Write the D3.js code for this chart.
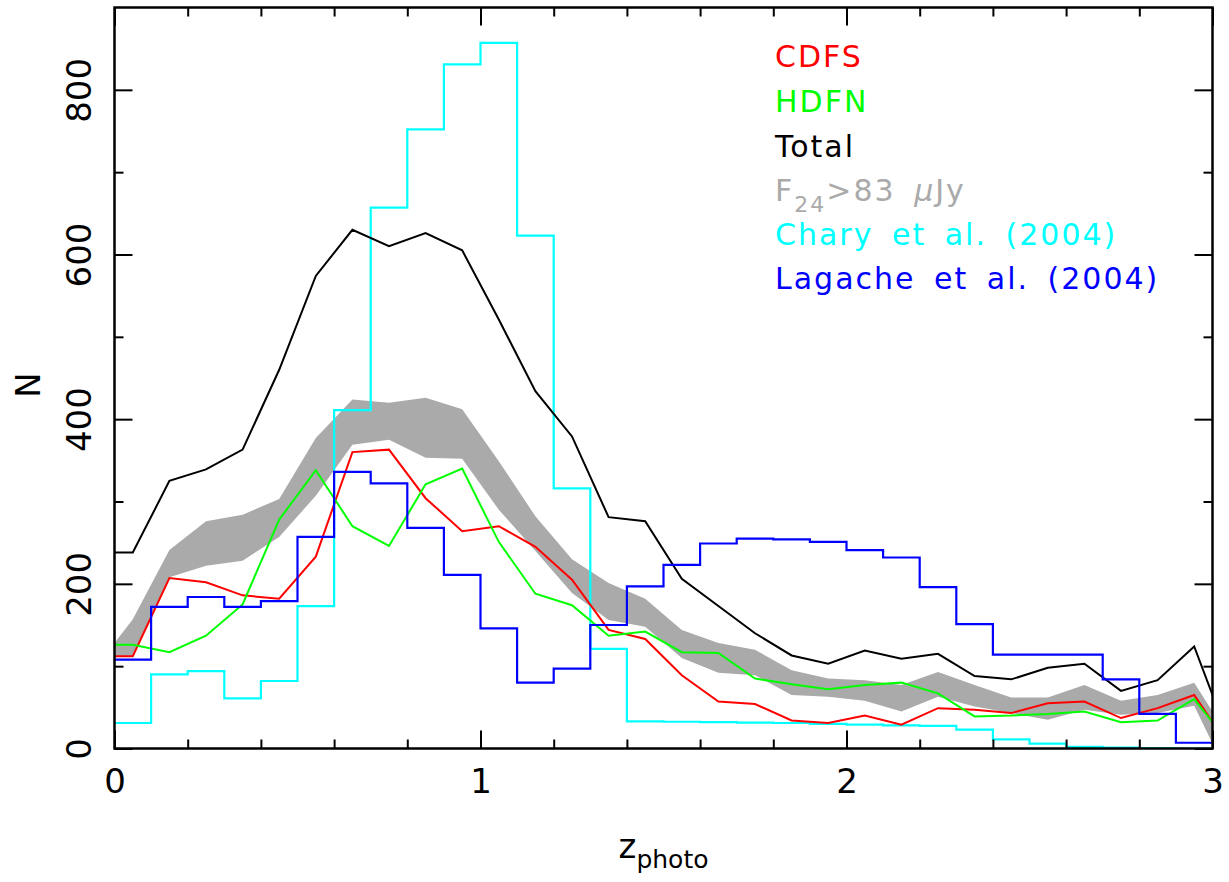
<!DOCTYPE html>
<html>
<head>
<meta charset="utf-8">
<script src="https://cdn.jsdelivr.net/npm/d3@7"></script>
<style>
  body { margin: 0; background: #fff; }
  text { font-family: "DejaVu Sans", sans-serif; }
</style>
</head>
<body>
<script>
// redshift points for the curves (bin centres plus the two ends)
var zPts = [0.0, 0.05, 0.15, 0.25, 0.35, 0.45, 0.55, 0.65, 0.75, 0.85, 0.95,
            1.05, 1.15, 1.25, 1.35, 1.45, 1.55, 1.65, 1.75, 1.85, 1.95,
            2.05, 2.15, 2.25, 2.35, 2.45, 2.55, 2.65, 2.75, 2.85, 2.95, 3.0];

// bin edges for the model histograms
var zBins = [0.0, 0.1, 0.2, 0.3, 0.4, 0.5, 0.6, 0.7, 0.8, 0.9, 1.0,
             1.1, 1.2, 1.3, 1.4, 1.5, 1.6, 1.7, 1.8, 1.9, 2.0,
             2.1, 2.2, 2.3, 2.4, 2.5, 2.6, 2.7, 2.8, 2.9, 3.0];

var total = [238, 238, 325, 339, 363, 460, 574, 630, 610, 626, 605,
             521, 434, 379, 281, 276, 206, 173, 140, 113, 103,
             119, 109, 115, 88, 84, 98, 103, 70, 83, 124, 65];

var cdfs = [112, 112, 207, 202, 186, 182, 233, 360, 363, 304, 264,
            270, 245, 205, 144, 133, 89, 57, 54, 34, 31,
            40, 29, 49, 47, 43, 55, 57, 37, 49, 65, 32];

var hdfn = [126, 126, 117, 137, 175, 278, 338, 270, 246, 321, 340,
            251, 188, 174, 137, 142, 117, 116, 85, 78, 72,
            77, 80, 67, 39, 40, 42, 45, 32, 34, 60, 32];

// F24 > 83 uJy band
var bandHi = [128, 157, 241, 276, 284, 303, 377, 424, 420, 426, 412,
              349, 282, 230, 201, 182, 144, 128, 120, 95, 85,
              83, 77, 93, 77, 62, 62, 77, 58, 65, 80, 45];
var bandLo = [111, 111, 208, 222, 228, 257, 307, 369, 375, 353, 352,
              290, 240, 189, 156, 148, 110, 92, 89, 65, 63,
              58, 45, 63, 51, 43, 35, 47, 41, 43, 52, 6];

// model histograms, one value per 0.1 bin
var chary = [31, 90, 94, 61, 82, 173, 411, 657, 752, 831,
             857, 623, 316, 121, 33, 32.5, 32, 31.5, 31, 30,
             29, 28, 27.5, 23, 11, 6, 2, 1, 0.5, 0];
var lagache = [108, 172, 184, 172, 179, 257, 336, 322, 268, 211,
               146, 80, 97, 150, 197, 223, 249, 255, 254, 251,
               241, 232, 196, 151, 114, 114, 114, 84, 42, 7];

var legendLabels = ["CDFS", "HDFN", "Total", "F24", "Chary et al. (2004)", "Lagache et al. (2004)"];
var legendColors = ["#ff0000", "#00ff00", "#000000", "#aaaaaa", "#00ffff", "#0000ff"];

// dimensions
var W = 1229, H = 882;
var margin = { top: 7.5, left: 114.5, right: 16.5, bottom: 133.5 };
var width = W - margin.left - margin.right;
var height = H - margin.top - margin.bottom;

var svg = d3.select("body").append("svg")
    .attr("width", W)
    .attr("height", H);

var g = svg.append("g")
    .attr("transform", "translate(" + margin.left + "," + margin.top + ")");

var x = d3.scaleLinear().domain([0, 3]).range([0, width]);
var y = d3.scaleLinear().domain([0, 900]).range([height, 0]);

g.append("clipPath").attr("id", "clip")
    .append("rect").attr("width", width).attr("height", height);

var plot = g.append("g").attr("clip-path", "url(#clip)");

// grey band
var area = d3.area()
    .x(function(d, i) { return x(zPts[i]); })
    .y0(function(d, i) { return y(bandLo[i]); })
    .y1(function(d, i) { return y(bandHi[i]); });

plot.append("path")
    .datum(bandHi)
    .attr("d", area)
    .attr("fill", "#aaaaaa");

// curves
var line = d3.line()
    .x(function(d, i) { return x(zPts[i]); })
    .y(function(d) { return y(d); });

// histograms drawn as steps
var step = d3.line()
    .curve(d3.curveStepAfter)
    .x(function(d, i) { return x(zBins[i]); })
    .y(function(d) { return y(d); });

function addLine(vals, colour) {
    plot.append("path")
        .datum(vals)
        .attr("d", line)
        .attr("fill", "none")
        .attr("stroke", colour)
        .attr("stroke-width", 2)
        .attr("stroke-linejoin", "miter");
}

function addStep(vals, colour) {
    plot.append("path")
        .datum(vals.concat([vals[vals.length - 1]]))
        .attr("d", step)
        .attr("fill", "none")
        .attr("stroke", colour)
        .attr("stroke-width", 2.2);
}

addStep(chary, "#00ffff");
addLine(total, "#000000");
addLine(cdfs, "#ff0000");
addLine(hdfn, "#00ff00");
addStep(lagache, "#0000ff");

// axes, ticks point inwards on all four sides
function styleAxis(sel) {
    sel.select(".domain").remove();
    sel.selectAll(".tick line").attr("stroke", "#000").attr("stroke-width", 2);
}

var xMajor = [0, 1, 2, 3];
var xMinor = [0.2, 0.4, 0.6, 0.8, 1.2, 1.4, 1.6, 1.8, 2.2, 2.4, 2.6, 2.8];
var yMajor = [0, 200, 400, 600, 800];
var yMinor = [100, 300, 500, 700];

var gx = g.append("g").attr("transform", "translate(0," + height + ")")
    .call(d3.axisBottom(x).tickValues(xMajor).tickFormat(d3.format("d")).tickSize(-18).tickPadding(20));
gx.call(styleAxis);
gx.selectAll("text").attr("font-size", 34).attr("fill", "#000")
    .style("font-family", "DejaVu Sans, sans-serif");

g.append("g").attr("transform", "translate(0," + height + ")")
    .call(d3.axisBottom(x).tickValues(xMinor).tickFormat("").tickSize(-9)).call(styleAxis);
g.append("g")
    .call(d3.axisTop(x).tickValues(xMajor).tickFormat("").tickSize(-18)).call(styleAxis);
g.append("g")
    .call(d3.axisTop(x).tickValues(xMinor).tickFormat("").tickSize(-9)).call(styleAxis);

var gy = g.append("g")
    .call(d3.axisLeft(y).tickValues(yMajor).tickFormat(d3.format("d")).tickSize(-18));
gy.call(styleAxis);
gy.selectAll("text")
    .attr("font-size", 34)
    .attr("fill", "#000")
    .style("font-family", "DejaVu Sans, sans-serif")
    .attr("text-anchor", "middle")
    .attr("transform", "rotate(-90)")
    .attr("x", 0)
    .attr("y", -24)
    .attr("dy", 0);

g.append("g")
    .call(d3.axisLeft(y).tickValues(yMinor).tickFormat("").tickSize(-9)).call(styleAxis);
g.append("g").attr("transform", "translate(" + width + ",0)")
    .call(d3.axisRight(y).tickValues(yMajor).tickFormat("").tickSize(-18)).call(styleAxis);
g.append("g").attr("transform", "translate(" + width + ",0)")
    .call(d3.axisRight(y).tickValues(yMinor).tickFormat("").tickSize(-9)).call(styleAxis);

// frame
g.append("rect")
    .attr("width", width)
    .attr("height", height)
    .attr("fill", "none")
    .attr("stroke", "#000")
    .attr("stroke-width", 2.5);

// axis titles
var xt = svg.append("text")
    .attr("x", margin.left + width / 2)
    .attr("y", 858)
    .attr("text-anchor", "middle")
    .attr("font-size", 34);
xt.append("tspan").text("z");
xt.append("tspan").attr("font-size", 25).attr("dy", 10).text("photo");

svg.append("text")
    .attr("transform", "translate(40,385) rotate(-90)")
    .attr("text-anchor", "middle")
    .attr("font-size", 34)
    .text("N");

// legend
var legend = svg.append("g")
    .attr("transform", "translate(775,0)");

var baselines = [67, 112, 156.5, 200.5, 245, 289];

legendLabels.forEach(function(lbl, i) {
    var t = legend.append("text")
        .attr("x", 0)
        .attr("y", baselines[i])
        .attr("font-size", 30)
        .attr("fill", legendColors[i])
        .style("letter-spacing", "2px")
        .style("word-spacing", "7px");
    if (lbl === "F24") {
        t.append("tspan").text("F");
        t.append("tspan").attr("font-size", 22).attr("dy", 11).text("24");
        t.append("tspan").attr("dy", -11).text(">83 ");
        t.append("tspan").attr("font-style", "italic").text("\u03bc");
        t.append("tspan").text("Jy");
    } else {
        t.text(lbl);
    }
});
</script>
</body>
</html>
